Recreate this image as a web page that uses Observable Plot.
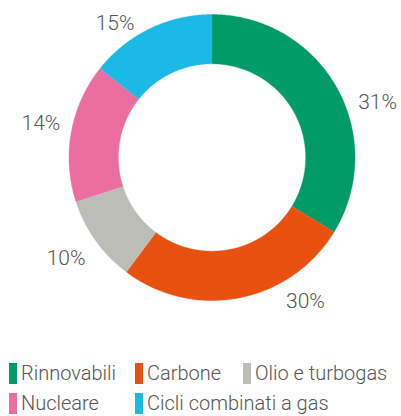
<!DOCTYPE html>
<html>
<head>
<meta charset="utf-8">
<script src="https://cdn.jsdelivr.net/npm/d3@7"></script>
<script src="https://cdn.jsdelivr.net/npm/@observablehq/plot@0.6"></script>
<style>
  html, body { margin: 0; padding: 0; background: #fff; }
  body { width: 401px; height: 416px; overflow: hidden; font-family: Roboto, "Liberation Sans", sans-serif; }
  #legend { display: grid; grid-template-columns: 126px 108px auto; padding-left: 9px; width: 401px; box-sizing: border-box; }
  .item { display: flex; align-items: center; height: 30px; color: #555; font-size: 20px; font-weight: 300; white-space: nowrap; line-height: 22px; }
  .sw { width: 8px; height: 21px; margin-right: 4px; flex: none; }
</style>
</head>
<body>
<div id="chart"></div>
<div id="legend"></div>
<script>
// ---- data ----
const categories = ["Rinnovabili", "Carbone", "Olio e turbogas", "Nucleare", "Cicli combinati a gas"];
// slice sizes as drawn in the picture (share of the ring, %)
const shares = [33.7, 26.5, 9.8, 15.7, 14.3];
// printed labels
const labels = ["31%", "30%", "10%", "14%", "15%"];
const colors = ["#009b67", "#e8510f", "#bcbdb6", "#ec6ea1", "#1ab9e6"];

// ---- layout (not data) ----
const innerR = 0.655;
const labelNudgeDeg = [11, -22, 1, 1, -10];
const labelRadius = [1.22, 1.2, 1.24, 1.22, 1.16];

const pie = d3.pie().sort(null).value(d => d.share)(categories.map((c, i) => ({cat: c, share: shares[i], label: labels[i]})));

const pts = [];
for (const a of pie) {
  const n = Math.max(2, Math.ceil((a.endAngle - a.startAngle) / (Math.PI / 360)));
  for (let k = 0; k <= n; k++) {
    const t = a.startAngle + (a.endAngle - a.startAngle) * k / n;
    pts.push({cat: a.data.cat, x: Math.sin(t), y: Math.cos(t)});
  }
  for (let k = n; k >= 0; k--) {
    const t = a.startAngle + (a.endAngle - a.startAngle) * k / n;
    pts.push({cat: a.data.cat, x: innerR * Math.sin(t), y: innerR * Math.cos(t)});
  }
}
const lab = pie.map((a, i) => {
  const t = (a.startAngle + a.endAngle) / 2 + labelNudgeDeg[i] * Math.PI / 180;
  return {x: labelRadius[i] * Math.sin(t), y: labelRadius[i] * Math.cos(t), text: a.data.label};
});

const cx = 211.5, cy = 157, R = 143;
const chart = Plot.plot({
  width: 401,
  height: 358,
  margin: 0,
  style: {background: "#fff", fontFamily: "Roboto, 'Liberation Sans', sans-serif"},
  x: {domain: [-1, 1], range: [cx - R, cx + R], axis: null},
  y: {domain: [-1, 1], range: [cy + R, cy - R], axis: null},
  color: {type: "ordinal", domain: categories, range: colors},
  marks: [
    Plot.line(pts, {x: "x", y: "y", z: "cat", fill: "cat", stroke: "cat", strokeWidth: 0.4, curve: "linear"}),
    Plot.text(lab, {x: "x", y: "y", text: "text", fill: "#555", fontSize: 21, fontWeight: 300, textAnchor: "middle", lineAnchor: "middle", style: "letter-spacing: 0.5px"})
  ]
});
chart.style.display = "block";
document.getElementById("chart").appendChild(chart);

const color = chart.scale("color");
const leg = document.getElementById("legend");
categories.forEach(c => {
  const it = document.createElement("div");
  it.className = "item";
  const sw = document.createElement("div");
  sw.className = "sw";
  sw.style.background = color.range[color.domain.indexOf(c)];
  const tx = document.createElement("span");
  tx.textContent = c;
  it.appendChild(sw); it.appendChild(tx);
  leg.appendChild(it);
});
</script>
</body>
</html>
